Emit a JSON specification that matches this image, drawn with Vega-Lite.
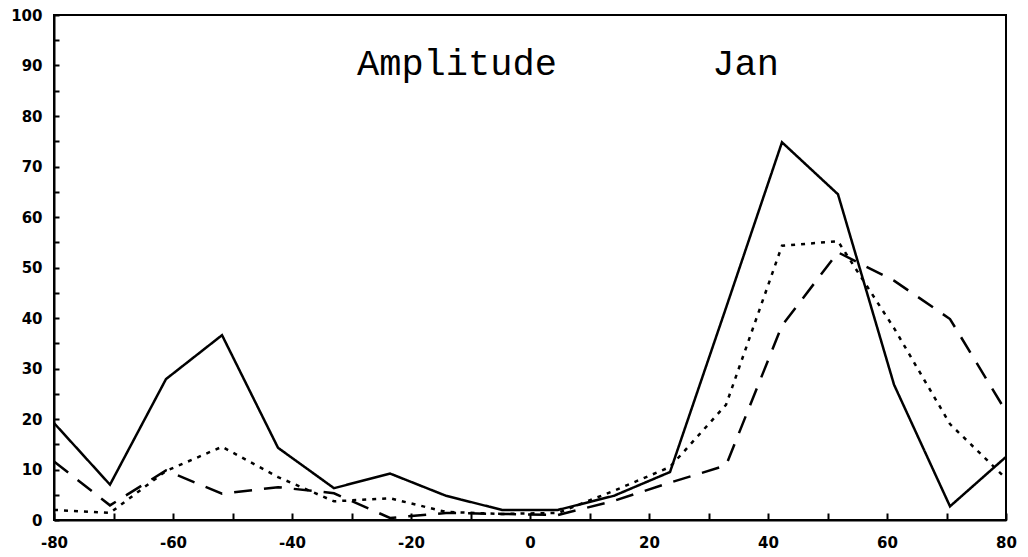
{
  "$schema": "https://vega.github.io/schema/vega-lite/v6.json",
  "width": 952,
  "height": 505,
  "autosize": "none",
  "padding": {"left": 54, "top": 15, "right": 22, "bottom": 37},
  "background": "white",
  "title": {
    "text": "Amplitude\u00a0\u00a0\u00a0\u00a0\u00a0\u00a0\u00a0Jan",
    "anchor": "start",
    "frame": "group",
    "orient": "top",
    "offset": -62,
    "dx": 303,
    "dy": 42,
    "baseline": "alphabetic",
    "font": "Liberation Mono",
    "fontSize": 37,
    "fontWeight": "normal",
    "color": "black"
  },
  "config": {
    "view": {"stroke": "black", "strokeWidth": 2}
  },
  "data": {"values": [
      {"lat": -80, "amp": 19.2, "series": "solid"},
      {"lat": -70.59, "amp": 7.0, "series": "solid"},
      {"lat": -61.18, "amp": 27.9, "series": "solid"},
      {"lat": -51.76, "amp": 36.6, "series": "solid"},
      {"lat": -42.35, "amp": 14.3, "series": "solid"},
      {"lat": -32.94, "amp": 6.3, "series": "solid"},
      {"lat": -23.53, "amp": 9.2, "series": "solid"},
      {"lat": -14.12, "amp": 4.8, "series": "solid"},
      {"lat": -4.71, "amp": 2.0, "series": "solid"},
      {"lat": 4.71, "amp": 2.0, "series": "solid"},
      {"lat": 14.12, "amp": 4.8, "series": "solid"},
      {"lat": 23.53, "amp": 9.5, "series": "solid"},
      {"lat": 32.94, "amp": 42.0, "series": "solid"},
      {"lat": 42.35, "amp": 74.8, "series": "solid"},
      {"lat": 51.76, "amp": 64.5, "series": "solid"},
      {"lat": 61.18, "amp": 26.8, "series": "solid"},
      {"lat": 70.59, "amp": 2.7, "series": "solid"},
      {"lat": 80, "amp": 12.5, "series": "solid"},
      {"lat": -80, "amp": 2.0, "series": "dotted"},
      {"lat": -70.59, "amp": 1.4, "series": "dotted"},
      {"lat": -61.18, "amp": 9.7, "series": "dotted"},
      {"lat": -51.76, "amp": 14.5, "series": "dotted"},
      {"lat": -42.35, "amp": 8.5, "series": "dotted"},
      {"lat": -32.94, "amp": 3.7, "series": "dotted"},
      {"lat": -23.53, "amp": 4.3, "series": "dotted"},
      {"lat": -14.12, "amp": 1.6, "series": "dotted"},
      {"lat": -4.71, "amp": 1.2, "series": "dotted"},
      {"lat": 4.71, "amp": 1.4, "series": "dotted"},
      {"lat": 14.12, "amp": 5.8, "series": "dotted"},
      {"lat": 23.53, "amp": 10.5, "series": "dotted"},
      {"lat": 32.94, "amp": 22.8, "series": "dotted"},
      {"lat": 42.35, "amp": 54.3, "series": "dotted"},
      {"lat": 51.76, "amp": 55.2, "series": "dotted"},
      {"lat": 61.18, "amp": 38.0, "series": "dotted"},
      {"lat": 70.59, "amp": 19.0, "series": "dotted"},
      {"lat": 80, "amp": 8.2, "series": "dotted"},
      {"lat": -80, "amp": 11.6, "series": "dashed"},
      {"lat": -70.59, "amp": 2.9, "series": "dashed"},
      {"lat": -61.18, "amp": 9.8, "series": "dashed"},
      {"lat": -51.76, "amp": 5.2, "series": "dashed"},
      {"lat": -42.35, "amp": 6.5, "series": "dashed"},
      {"lat": -32.94, "amp": 5.3, "series": "dashed"},
      {"lat": -23.53, "amp": 0.4, "series": "dashed"},
      {"lat": -14.12, "amp": 1.4, "series": "dashed"},
      {"lat": -4.71, "amp": 1.2, "series": "dashed"},
      {"lat": 4.71, "amp": 1.0, "series": "dashed"},
      {"lat": 14.12, "amp": 3.8, "series": "dashed"},
      {"lat": 23.53, "amp": 7.4, "series": "dashed"},
      {"lat": 32.94, "amp": 10.8, "series": "dashed"},
      {"lat": 42.35, "amp": 38.5, "series": "dashed"},
      {"lat": 51.76, "amp": 53.0, "series": "dashed"},
      {"lat": 61.18, "amp": 47.4, "series": "dashed"},
      {"lat": 70.59, "amp": 39.8, "series": "dashed"},
      {"lat": 80, "amp": 21.5, "series": "dashed"}
  ]},
  "mark": {"type": "line", "color": "black", "strokeWidth": 2.5},
  "encoding": {
    "x": {
      "field": "lat", "type": "quantitative",
      "scale": {"domain": [-80, 80], "nice": false, "zero": false},
      "axis": {
        "title": null,
        "grid": false,
        "tickCount": 16,
        "labelExpr": "datum.value % 20 === 0 ? '' + datum.value : ''",
        "tickColor": "black",
        "tickWidth": 2,
        "tickSize": -7,
        "domainColor": "black",
        "domainWidth": 2,
        "labelPadding": 22,
        "labelFlush": false,
        "labelOverlap": false,
        "labelColor": "black",
        "labelFont": "DejaVu Sans",
        "labelFontWeight": "bold",
        "labelFontSize": 15
      }
    },
    "y": {
      "field": "amp", "type": "quantitative",
      "scale": {"domain": [0, 100], "nice": false},
      "axis": {
        "title": null,
        "grid": false,
        "tickCount": 20,
        "labelExpr": "datum.value % 10 === 0 ? '' + datum.value : ''",
        "tickColor": "black",
        "tickWidth": 2,
        "tickSize": -5,
        "domainColor": "black",
        "domainWidth": 2,
        "labelPadding": 17,
        "labelFlush": false,
        "labelOverlap": false,
        "labelColor": "black",
        "labelFont": "DejaVu Sans",
        "labelFontWeight": "bold",
        "labelFontSize": 15
      }
    },
    "strokeDash": {
      "field": "series", "type": "nominal",
      "scale": {"domain": ["solid", "dotted", "dashed"], "range": [[1, 0], [4, 6], [18, 12]]},
      "legend": null
    }
  }
}
